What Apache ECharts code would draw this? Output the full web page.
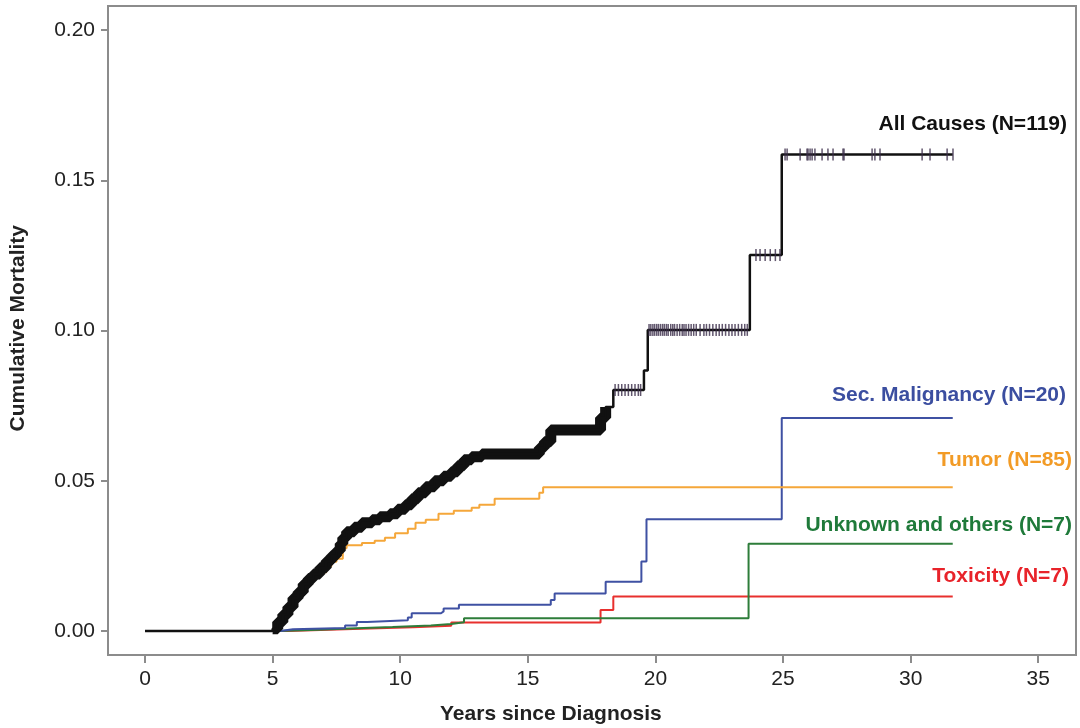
<!DOCTYPE html>
<html>
<head>
<meta charset="utf-8">
<title>Cumulative Mortality</title>
<script src="https://cdn.jsdelivr.net/npm/echarts@6/dist/echarts.min.js"></script>
<style>
  html, body { margin: 0; padding: 0; background: #fff; }
  #chart { width: 1080px; height: 728px; }
</style>
</head>
<body>
<div id="chart"></div>
<script>
// tick labels
const xTicks = [0, 5, 10, 15, 20, 25, 30, 35];
const yTicks = [0, 0.05, 0.10, 0.15, 0.20];

// cumulative incidence step points [years, value]
const allCauses = [
  [0, 0], [5.0, 0.0007], [5.2, 0.003], [5.4, 0.0055], [5.6, 0.008], [5.8, 0.011],
  [6.0, 0.013], [6.2, 0.0156], [6.4, 0.0175], [6.6, 0.019], [6.85, 0.021], [7.1, 0.0233],
  [7.3, 0.025], [7.5, 0.0267], [7.65, 0.029], [7.75, 0.031], [7.9, 0.033], [8.2, 0.0345],
  [8.5, 0.036], [8.9, 0.037], [9.2, 0.038], [9.6, 0.039], [9.9, 0.0405], [10.2, 0.042],
  [10.45, 0.044], [10.7, 0.046], [11.0, 0.048], [11.35, 0.050], [11.7, 0.0515], [12.0, 0.053],
  [12.25, 0.055], [12.5, 0.057], [12.8, 0.058], [13.2, 0.0589], [15.45, 0.061], [15.65, 0.063],
  [15.9, 0.0669], [17.85, 0.071], [18.05, 0.0745], [18.35, 0.0802], [19.55, 0.0867],
  [19.7, 0.1002], [23.7, 0.1251], [24.95, 0.1586], [31.65, 0.1586]
];
const tumor = [
  [0, 0], [5.0, 0.0005], [5.2, 0.0028], [5.4, 0.005], [5.6, 0.0075], [5.8, 0.010],
  [6.0, 0.012], [6.2, 0.0145], [6.4, 0.0163], [6.6, 0.0178], [6.85, 0.0195], [7.1, 0.0215],
  [7.3, 0.023], [7.5, 0.024], [7.75, 0.0275], [7.9, 0.0285], [8.5, 0.0293], [9.0, 0.030],
  [9.4, 0.031], [9.8, 0.0325], [10.3, 0.034], [10.6, 0.036], [11.0, 0.037], [11.5, 0.039],
  [12.1, 0.040], [12.8, 0.041], [13.1, 0.042], [13.7, 0.044], [15.45, 0.046], [15.6, 0.0478],
  [31.65, 0.0478]
];
const secMalignancy = [
  [0, 0], [5.3, 0.0006], [5.8, 0.001], [7.84, 0.0018], [8.3, 0.003], [8.7, 0.0036],
  [10.3, 0.0045], [10.45, 0.0059], [11.6, 0.0065], [11.7, 0.0075], [12.3, 0.0087],
  [15.9, 0.0103], [16.05, 0.0125], [18.05, 0.0164], [19.45, 0.0231], [19.65, 0.0372],
  [24.95, 0.0709], [31.65, 0.0709]
];
const unknownOthers = [
  [0, 0], [5.2, 0.0004], [6.8, 0.0008], [8.0, 0.0013], [9.7, 0.0018], [11.2, 0.0023],
  [12.0, 0.0029], [12.5, 0.0042], [23.65, 0.029], [31.65, 0.029]
];
const toxicity = [
  [0, 0], [5.6, 0.0004], [7.2, 0.0008], [8.8, 0.0012], [10.5, 0.0017], [12.0, 0.0028],
  [17.85, 0.007], [18.35, 0.0115], [31.65, 0.0115]
];

// censoring times on the all-causes curve
const censorTimes = [
  18.42, 18.55, 18.68, 18.81, 18.94, 19.07, 19.2, 19.33, 19.42,
  19.75, 19.82, 19.9, 19.97, 20.05, 20.12, 20.2, 20.28, 20.35, 20.43, 20.5, 20.6, 20.68,
  20.75, 20.85, 20.95, 21.05, 21.12, 21.2, 21.3, 21.4, 21.5, 21.6, 21.75, 21.9, 22.0,
  22.12, 22.25, 22.38, 22.5, 22.62, 22.75, 22.88, 23.0, 23.12, 23.25, 23.38, 23.5, 23.6,
  23.94, 24.1, 24.3, 24.5, 24.7, 24.88,
  25.08, 25.16, 25.67, 25.94, 25.98, 26.06, 26.14, 26.25, 26.53, 26.76, 26.96, 27.35,
  27.39, 28.49, 28.6, 28.8, 30.45, 30.76, 31.43, 31.66
];
// span where censor marks overlap into a solid band
const bandStart = 5.0;
const bandEnd = 18.1;

function stepAt(points, t) {
  let v = 0;
  for (const p of points) {
    if (p[0] <= t) v = p[1];
  }
  return v;
}

const font = "'Liberation Sans', Arial, sans-serif";
const axisGray = '#8c8c8c';

const colors = {
  all: '#111111',
  sec: '#3f51a3',
  tumor: '#f5a73a',
  unknown: '#2e7d3a',
  tox: '#e8302e'
};

function stepLine(name, data, color, width, z) {
  return {
    name: name,
    type: 'line',
    step: 'end',
    data: data,
    showSymbol: false,
    symbol: 'none',
    z: z,
    lineStyle: { color: color, width: width },
    animation: false
  };
}

const chart = echarts.init(document.getElementById('chart'));

const option = {
  backgroundColor: '#fff',
  animation: false,
  grid: {
    left: 108, right: 4, top: 6, bottom: 73,
    show: true,
    borderColor: axisGray,
    borderWidth: 2
  },
  xAxis: {
    type: 'value',
    min: -1.45,
    max: 36.48,
    axisLine: { show: false, onZero: false },
    splitLine: { show: false },
    axisTick: {
      show: true, length: 8, customValues: xTicks,
      lineStyle: { color: axisGray, width: 2 }
    },
    axisLabel: {
      customValues: xTicks,
      margin: 14,
      fontFamily: font,
      fontSize: 21,
      color: '#222'
    }
  },
  yAxis: {
    type: 'value',
    min: -0.008,
    max: 0.208,
    axisLine: { show: false, onZero: false },
    splitLine: { show: false },
    axisTick: {
      show: true, length: 7, customValues: yTicks,
      lineStyle: { color: axisGray, width: 2 }
    },
    axisLabel: {
      customValues: yTicks,
      margin: 13,
      fontFamily: font,
      fontSize: 21,
      color: '#222',
      formatter: function (v) { return v.toFixed(2); }
    }
  },
  series: [
    stepLine('Toxicity', toxicity, colors.tox, 2, 2),
    stepLine('Unknown and others', unknownOthers, colors.unknown, 2, 3),
    stepLine('Sec. Malignancy', secMalignancy, colors.sec, 2, 3),
    stepLine('Tumor', tumor, colors.tumor, 2, 4),
    stepLine('All Causes band',
      allCauses.filter(function (p) { return p[0] >= bandStart && p[0] <= bandEnd; }),
      colors.all, 11, 5),
    stepLine('All Causes', allCauses, colors.all, 2.5, 6),
    {
      name: 'Censored',
      type: 'scatter',
      symbol: 'rect',
      symbolSize: [1.5, 12],
      z: 7,
      itemStyle: { color: '#3b2d4a' },
      data: censorTimes.map(function (t) { return [t, stepAt(allCauses, t)]; }),
      animation: false
    }
  ],
  graphic: [
    { type: 'text', right: 13, top: 114, style: { text: 'All Causes (N=119)', font: 'bold 21px ' + font, fill: '#111' } },
    { type: 'text', right: 14, top: 385, style: { text: 'Sec. Malignancy (N=20)', font: 'bold 21px ' + font, fill: '#3b4ea0' } },
    { type: 'text', right: 8, top: 450, style: { text: 'Tumor (N=85)', font: 'bold 21px ' + font, fill: '#f29b26' } },
    { type: 'text', right: 8, top: 515, style: { text: 'Unknown and others (N=7)', font: 'bold 21px ' + font, fill: '#1f7a3a' } },
    { type: 'text', right: 11, top: 566, style: { text: 'Toxicity (N=7)', font: 'bold 21px ' + font, fill: '#e8232a' } },
    { type: 'text', left: 440, top: 704, style: { text: 'Years since Diagnosis', font: 'bold 21px ' + font, fill: '#222' } },
    { type: 'text', left: 8, top: 225, rotation: Math.PI / 2, style: { text: 'Cumulative Mortality', font: 'bold 21px ' + font, fill: '#222' } }
  ]
};

chart.setOption(option);
window.onresize = chart.resize;
</script>
</body>
</html>
